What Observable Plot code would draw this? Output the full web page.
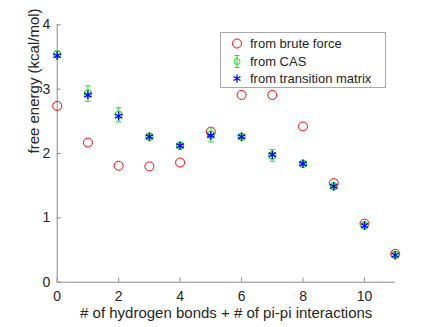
<!DOCTYPE html>
<html><head><meta charset="utf-8">
<script src="https://cdn.jsdelivr.net/npm/d3@7"></script>
<script src="https://cdn.jsdelivr.net/npm/@observablehq/plot@0.6"></script>
<style>
body{margin:0;background:#fff;font-family:"Liberation Sans",Arial,sans-serif}
#wrap{position:relative;width:436px;height:327px}
#legend{position:absolute;left:220px;top:32px;width:166px;height:56px;border:1px solid #a8a8a8;background:#fff;box-sizing:border-box;font-size:13px;color:#262626}
#legend .row{position:absolute;left:0;height:17px;line-height:17px;white-space:nowrap}
#legend svg{position:absolute;left:9px;top:0}
#legend span{position:absolute;left:29px;top:0}
</style></head><body>
<div id="wrap"></div>
<script>
const counts = [0,1,2,3,4,5,6,7,8,9,10,11];
const bruteForce = [2.74,2.17,1.81,1.80,1.86,2.34,2.91,2.91,2.42,1.54,0.91,0.44];
const cas = [3.54,2.93,2.60,2.26,2.12,2.29,2.26,1.97,1.84,1.49,0.88,0.425];
const casErr = [0.05,0.12,0.11,0.03,0.03,0.11,0.03,0.09,0.03,0.03,0.03,0.03];
const transition = [3.52,2.91,2.58,2.26,2.12,2.28,2.26,1.98,1.84,1.49,0.88,0.42];
const xTicks = [0,2,4,6,8,10];
const yTicks = [0,1,2,3,4];
const legendLabels = ["from brute force","from CAS","from transition matrix"];

const data = counts.map((c,i)=>({x:c, bf:bruteForce[i], cas:cas[i], err:casErr[i], tm:transition[i]}));
const font = '"Liberation Sans",Arial,sans-serif';
const green = "#22dd22";
const fmt = d3.format("d");
const plot = Plot.plot({
  width:436, height:327,
  marginLeft:56.7, marginRight:41.3, marginTop:24.3, marginBottom:45.3,
  style:{fontFamily:font, fontSize:"14px", color:"#262626", background:"#fff"},
  x:{domain:[0,11]}, y:{domain:[0,4]},
  marks:[
    Plot.ruleY([0],{stroke:"#8a8a8a"}),
    Plot.ruleX([0],{stroke:"#8a8a8a"}),
    Plot.axisX({ticks:xTicks, tickFormat:fmt, tickSize:0, tickPadding:9, fontSize:14, label:null}),
    Plot.axisX({ticks:xTicks, tickSize:-4, tickFormat:()=>"", stroke:"#8a8a8a", label:null}),
    Plot.axisY({ticks:yTicks, tickFormat:fmt, tickSize:0, tickPadding:7, fontSize:14, label:null}),
    Plot.axisY({ticks:yTicks, tickSize:-4, tickFormat:()=>"", stroke:"#8a8a8a", label:null}),
    Plot.text(["# of hydrogen bonds + # of pi-pi interactions"],{frameAnchor:"bottom", dy:36, fontSize:15, fill:"#262626"}),
    Plot.text(["free energy (kcal/mol)"],{frameAnchor:"left", dx:-23, rotate:-90, fontSize:15, fill:"#262626"}),
    Plot.dot(data,{x:"x", y:"bf", r:4.5, stroke:"red", strokeWidth:1}),
    Plot.ruleX(data,{x:"x", y1:d=>d.cas-d.err, y2:d=>d.cas+d.err, stroke:green}),
    Plot.link(data,{x1:d=>d.x-0.09, x2:d=>d.x+0.09, y1:d=>d.cas-d.err, y2:d=>d.cas-d.err, stroke:green}),
    Plot.link(data,{x1:d=>d.x-0.09, x2:d=>d.x+0.09, y1:d=>d.cas+d.err, y2:d=>d.cas+d.err, stroke:green}),
    Plot.dot(data,{x:"x", y:"cas", r:3.6, stroke:green, strokeWidth:1.2}),
    Plot.dot(data,{x:"x", y:"tm", r:4, symbol:"asterisk", stroke:"blue", strokeWidth:1.3})
  ]
});
const wrap = document.getElementById("wrap");
wrap.appendChild(plot);
const legend = document.createElement("div");
legend.id = "legend";
const icons = [
  '<circle cx="7" cy="8.5" r="4.5" fill="none" stroke="red"/>',
  `<line x1="7" x2="7" y1="2.5" y2="14.5" stroke="${green}"/><line x1="4.5" x2="9.5" y1="2.5" y2="2.5" stroke="${green}"/><line x1="4.5" x2="9.5" y1="14.5" y2="14.5" stroke="${green}"/><circle cx="7" cy="8.5" r="3" fill="none" stroke="${green}"/>`,
  '<g stroke="blue" stroke-width="1.3"><line x1="7" x2="7" y1="4.5" y2="12.5"/><line x1="3.5" x2="10.5" y1="6.5" y2="10.5"/><line x1="3.5" x2="10.5" y1="10.5" y2="6.5"/></g>'
];
legendLabels.forEach((t,i)=>{
  const row = document.createElement("div");
  row.className = "row";
  row.style.top = (2 + i*17.5) + "px";
  row.innerHTML = `<svg width="14" height="17">${icons[i]}</svg><span>${t}</span>`;
  legend.appendChild(row);
});
wrap.appendChild(legend);
</script>
</body></html>
